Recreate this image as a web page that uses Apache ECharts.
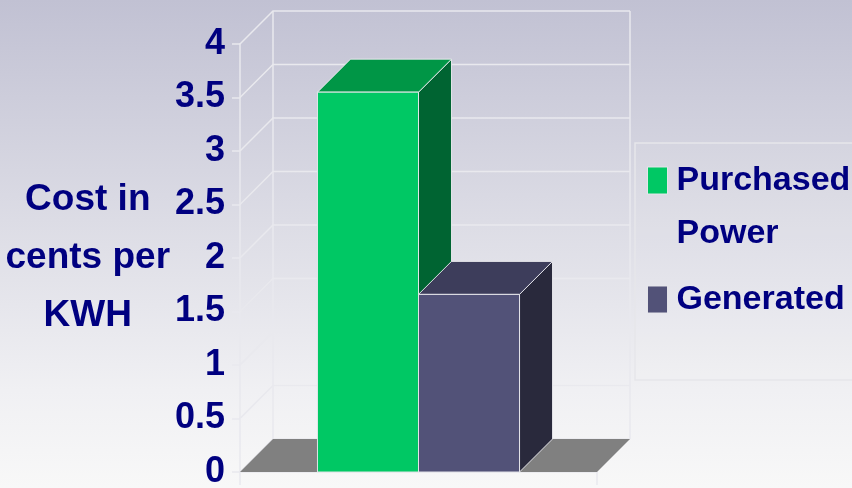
<!DOCTYPE html>
<html><head><meta charset="utf-8">
<script src="https://cdn.jsdelivr.net/npm/echarts@6/dist/echarts.min.js"></script>
<style>html,body{margin:0;padding:0;background:#fff;}#chart{width:852px;height:488px;}</style>
</head><body><div id="chart"></div>
<script>
// ---- data ----
const categories = ['Cost'];
const seriesNames = ['Purchased Power', 'Generated'];
const purchasedPower = [3.55];
const generated = [1.66];
const yTicks = [0, 0.5, 1, 1.5, 2, 2.5, 3, 3.5, 4];
const yTitle = 'Cost in\ncents per\nKWH';

// ---- style ----
const FONT = "'Liberation Sans',Arial,Helvetica,sans-serif";
const NAVY = '#000080';
const DEPTH = 33;
const BAR_FRAC = 0.283;
const GRIDLINE = '#e9e9ee';
const EDGE = 'rgba(232,232,236,0.95)';
const GREEN = {front: '#00c864', top: '#009646', side: '#006432'};
const PURPLE = {front: '#525278', top: '#3d3d5b', side: '#29293c'};

function frameRender(params, api) {
  const cs = params.coordSys;
  const x0 = cs.x, x1 = cs.x + cs.width;
  const yBase = api.coord([0, yTicks[0]])[1];
  const yTop = api.coord([0, yTicks[yTicks.length - 1]])[1];
  const children = [];
  yTicks.forEach(function (v) {
    const y = api.coord([0, v])[1];
    children.push({type: 'polyline', shape: {points: [[x0, y], [x0 + DEPTH, y - DEPTH], [x1 + DEPTH, y - DEPTH]]},
      style: {stroke: GRIDLINE, lineWidth: 1.5, fill: null}});
  });
  [x0 + DEPTH, x1 + DEPTH].forEach(function (x) {
    children.push({type: 'line', shape: {x1: x, y1: yBase - DEPTH, x2: x, y2: yTop - DEPTH},
      style: {stroke: GRIDLINE, lineWidth: 1.5}});
  });
  children.push({type: 'polygon', shape: {points: [[x0, yBase], [x1, yBase], [x1 + DEPTH, yBase - DEPTH], [x0 + DEPTH, yBase - DEPTH]]},
    style: {fill: '#808080'}});
  return {type: 'group', children: children};
}

function barRenderer(side, colors) {
  return function (params, api) {
    const idx = api.value(0);
    const base = api.coord([idx, 0]);
    const top = api.coord([idx, api.value(1)]);
    const band = api.size([1, 0])[0];
    const w = band * BAR_FRAC;
    const xl = side < 0 ? base[0] - w : base[0];
    const xr = xl + w;
    const yb = base[1], yt = top[1], d = DEPTH;
    return {type: 'group', children: [
      {type: 'polygon', shape: {points: [[xr, yb], [xr + d, yb - d], [xr + d, yt - d], [xr, yt]]},
        style: {fill: colors.side, stroke: EDGE, lineWidth: 1}},
      {type: 'polygon', shape: {points: [[xl, yt], [xr, yt], [xr + d, yt - d], [xl + d, yt - d]]},
        style: {fill: colors.top, stroke: EDGE, lineWidth: 1}},
      {type: 'rect', shape: {x: xl, y: yt, width: w, height: yb - yt},
        style: {fill: colors.front, stroke: EDGE, lineWidth: 1}}
    ]};
  };
}

const legendFont = {fontSize: 34, lineHeight: 53, fontWeight: 'bold', color: NAVY, fontFamily: FONT};

const chart = echarts.init(document.getElementById('chart'), null, {renderer: 'canvas'});
chart.setOption({
  animation: false,
  backgroundColor: {type: 'linear', x: 0, y: 0, x2: 0, y2: 1, colorStops: [
    {offset: 0, color: '#c1c1d3'}, {offset: 0.45, color: '#dcdce5'},
    {offset: 0.8, color: '#f0f0f3'}, {offset: 1, color: '#f8f8f8'}]},
  grid: {left: 240, right: 255, top: 44, bottom: 16, outerBoundsMode: 'none', containLabel: false},
  xAxis: {
    type: 'category', data: categories, boundaryGap: true,
    axisLabel: {show: false},
    axisTick: {show: true, length: 13, lineStyle: {color: GRIDLINE, width: 1.5}},
    axisLine: {show: true, lineStyle: {color: GRIDLINE, width: 1.5}},
    splitLine: {show: false}
  },
  yAxis: {
    type: 'value', min: 0, max: 4, interval: 0.5,
    name: yTitle, nameLocation: 'middle', nameRotate: 0, nameGap: 151,
    nameTextStyle: {fontSize: 37, lineHeight: 58, fontWeight: 'bold', color: NAVY, fontFamily: FONT, align: 'center', verticalAlign: 'middle'},
    axisLine: {show: true, lineStyle: {color: GRIDLINE, width: 1.5}},
    axisTick: {show: true, length: 8, lineStyle: {color: GRIDLINE, width: 1.5}},
    splitLine: {show: false},
    axisLabel: {fontSize: 36, fontWeight: 'bold', color: NAVY, fontFamily: FONT, margin: 15}
  },
  legend: [
    {data: [seriesNames[0]], orient: 'vertical', left: 647, top: 101, padding: 0, icon: 'rect',
      itemWidth: 20, itemHeight: 27, selectedMode: false,
      formatter: function (n) { return n.split(' ').map(function (w) { return '{a|' + w + '}'; }).join('\n'); },
      itemStyle: {borderColor: EDGE, borderWidth: 1},
      textStyle: Object.assign({}, legendFont, {padding: [53, 0, 0, 4], rich: {a: legendFont}})},
    {data: [seriesNames[1]], orient: 'vertical', left: 647, top: 273, padding: 0, icon: 'rect',
      itemWidth: 20, itemHeight: 27, selectedMode: false,
      itemStyle: {borderColor: EDGE, borderWidth: 1},
      textStyle: Object.assign({}, legendFont, {padding: [0, 0, 0, 4]})}
  ],
  graphic: [
    {type: 'rect', silent: true, z: -10, shape: {x: 635, y: 143, width: 240, height: 237},
      style: {fill: 'rgba(255,255,255,0.06)', stroke: '#e6e6ea', lineWidth: 1.5}}
  ],
  series: [
    {type: 'custom', name: 'frame', clip: false, z: 1, silent: true,
      renderItem: frameRender, data: [[0, 0]], encode: {x: 0, y: 1}},
    {type: 'custom', name: seriesNames[0], clip: false, z: 2,
      itemStyle: {color: GREEN.front},
      renderItem: barRenderer(-1, GREEN),
      data: purchasedPower.map(function (v, i) { return [i, v]; }), encode: {x: 0, y: 1}},
    {type: 'custom', name: seriesNames[1], clip: false, z: 3,
      itemStyle: {color: PURPLE.front},
      renderItem: barRenderer(1, PURPLE),
      data: generated.map(function (v, i) { return [i, v]; }), encode: {x: 0, y: 1}}
  ]
});
</script>
</body></html>
